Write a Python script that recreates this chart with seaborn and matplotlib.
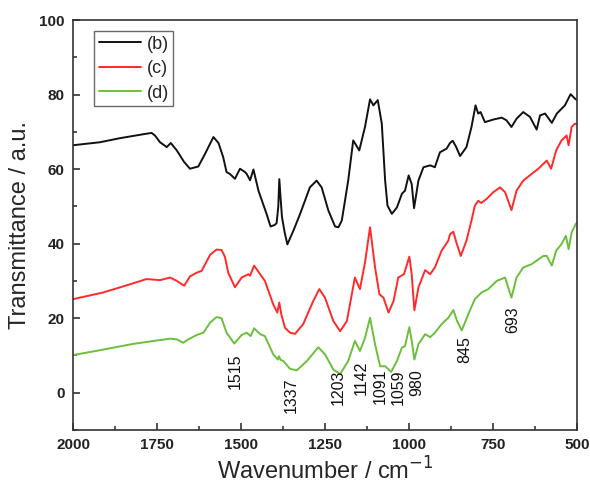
import numpy as np
import pandas as pd
import matplotlib
matplotlib.use("Agg")
import matplotlib.pyplot as plt
import seaborn as sns

# ---- data ----
wn_b = [2000, 1920, 1860, 1781, 1766, 1756, 1741, 1721, 1709, 1691, 1670, 1652, 1627, 1607,
        1582, 1567, 1553, 1543, 1533, 1518, 1503, 1488, 1483, 1473, 1463, 1448, 1424, 1412,
        1400, 1394, 1389, 1386, 1382, 1378, 1370, 1362, 1344, 1324, 1295, 1275, 1260, 1240,
        1220, 1210, 1200, 1181, 1166, 1148, 1131, 1116, 1106, 1093, 1081, 1071, 1064, 1051,
        1036, 1021, 1012, 1001, 992, 985, 972, 957, 937, 923, 908, 888, 878, 870, 860, 848,
        829, 814, 802, 794, 787, 774, 749, 724, 710, 695, 680, 660, 640, 620, 610, 595, 575,
        560, 536, 519, 506, 500]
t_b = [66.4, 67.2, 68.3, 69.5, 69.7, 69.0, 67.2, 65.9, 67.0, 65.0, 62.0, 60.1, 60.7, 64.1,
       68.6, 67.0, 63.2, 59.2, 58.7, 57.4, 60.1, 59.2, 58.7, 57.0, 59.9, 54.2, 48.0, 44.6,
       45.0, 45.5, 50.0, 57.3, 52.0, 47.1, 43.0, 39.8, 43.5, 48.0, 55.1, 56.9, 55.1, 48.9,
       44.6, 44.4, 46.2, 56.9, 67.7, 65.0, 71.3, 78.7, 77.1, 78.5, 72.2, 56.9, 50.2, 48.0,
       49.7, 53.4, 54.2, 58.3, 56.0, 49.5, 56.9, 60.5, 61.0, 60.5, 64.5, 65.5, 67.0, 67.6,
       66.0, 63.5, 65.9, 71.3, 77.1, 74.9, 75.3, 72.6, 73.3, 73.8, 73.1, 71.3, 73.5, 75.3,
       74.0, 70.6, 74.4, 74.9, 72.4, 74.9, 77.1, 80.1, 78.9, 78.5]

wn_c = [2000, 1910, 1830, 1781, 1741, 1711, 1691, 1669, 1652, 1632, 1617, 1592, 1573, 1558,
        1548, 1538, 1518, 1498, 1478, 1473, 1461, 1443, 1429, 1404, 1392, 1386, 1380, 1369,
        1354, 1339, 1315, 1285, 1267, 1250, 1225, 1205, 1185, 1161, 1146, 1131, 1116, 1101,
        1088, 1076, 1061, 1046, 1032, 1015, 999, 992, 984, 972, 952, 937, 923, 903, 883, 878,
        868, 858, 846, 829, 814, 804, 794, 785, 769, 749, 729, 714, 695, 680, 660, 635, 615,
        590, 577, 562, 546, 531, 525, 516, 506, 500]
t_c = [25.1, 26.9, 29.1, 30.5, 30.2, 30.9, 30.0, 28.7, 31.2, 32.2, 32.7, 37.0, 38.4, 38.3,
       36.5, 32.2, 28.3, 30.9, 31.8, 31.4, 34.1, 31.8, 30.0, 23.7, 21.5, 24.2, 21.0, 17.4,
       16.1, 15.8, 18.4, 24.6, 27.8, 25.5, 19.2, 16.5, 19.2, 30.9, 27.8, 34.9, 44.4, 33.6,
       26.4, 25.5, 21.5, 24.6, 30.9, 31.8, 36.5, 31.8, 22.1, 28.2, 32.9, 31.8, 33.6, 38.1,
       40.8, 42.5, 43.2, 40.0, 36.7, 40.8, 46.2, 50.2, 51.5, 50.9, 52.0, 53.8, 55.1, 53.8,
       49.0, 54.2, 56.9, 58.7, 60.1, 62.3, 60.1, 65.0, 67.7, 69.0, 66.4, 71.3, 72.2, 72.0]

wn_d = [2000, 1920, 1821, 1751, 1711, 1691, 1672, 1657, 1632, 1612, 1592, 1573, 1558, 1543,
        1520, 1498, 1483, 1471, 1461, 1443, 1429, 1404, 1390, 1387, 1382, 1374, 1354, 1334,
        1304, 1270, 1250, 1225, 1205, 1181, 1161, 1146, 1131, 1116, 1101, 1086, 1071, 1053,
        1036, 1021, 1012, 999, 992, 984, 972, 952, 937, 923, 903, 883, 868, 858, 843, 824,
        804, 784, 764, 739, 714, 695, 680, 660, 635, 600, 590, 575, 562, 546, 533, 525, 516,
        503, 500]
t_d = [10.1, 11.4, 13.1, 14.0, 14.5, 14.3, 13.4, 14.3, 15.5, 16.1, 18.8, 20.3, 20.0, 16.1,
       13.2, 15.5, 16.1, 15.2, 17.3, 15.7, 15.2, 10.3, 8.9, 9.8, 8.8, 8.5, 6.4, 6.0,
       8.5, 12.2, 10.3, 6.2, 5.0, 8.5, 13.9, 11.2, 14.7, 20.1, 13.0, 7.1, 7.1, 5.6,
       8.5, 12.1, 12.5, 17.6, 14.0, 8.9, 13.0, 15.7, 14.9, 16.1, 18.4, 20.1, 22.2, 19.5,
       16.7, 21.0, 25.1, 26.9, 27.8, 30.0, 30.9, 25.5, 30.9, 33.6, 34.5, 36.7, 36.7, 34.1,
       38.1, 39.9, 42.1, 38.5, 43.0, 45.4, 45.5]

series_names = ["(b)", "(c)", "(d)"]
series_colors = ["#111111", "#ff2a2a", "#6cbf3c"]

peak_labels = ["1515", "1337", "1203", "1142", "1091", "1059", "980", "845", "693"]
label_x = [1518, 1349, 1210, 1143, 1086, 1032, 977, 833, 691]
label_top = [10.6, 4.2, 6.3, 8.5, 6.6, 6.3, 6.3, 15.2, 23.3]

x_ticks = [2000, 1750, 1500, 1250, 1000, 750, 500]
y_ticks = [0, 20, 40, 60, 80, 100]

# ---- build long table ----
frames = []
for name, wn, t in zip(series_names, [wn_b, wn_c, wn_d], [t_b, t_c, t_d]):
    frames.append(pd.DataFrame({"wn": wn, "T": t, "sample": name}))
df = pd.concat(frames, ignore_index=True)

sns.set_style("ticks")
plt.rcParams["font.family"] = ["Liberation Sans", "DejaVu Sans"]

fig = plt.figure(figsize=(5.9, 4.88), dpi=100)
ax = fig.add_axes([73 / 590, 1 - 430 / 488, 504 / 590, 410 / 488])

sns.lineplot(data=df, x="wn", y="T", hue="sample", palette=series_colors,
             estimator=None, sort=False, linewidth=1.4, ax=ax)

ax.set_xlim(2000, 500)
ax.set_ylim(-10, 100)
ax.set_xticks(x_ticks)
ax.set_xticks([1875, 1625, 1375, 1125, 875, 625], minor=True)
ax.set_yticks(y_ticks)
ax.set_yticks([-10, 10, 30, 50, 70, 90], minor=True)
ax.set_xticklabels([str(v) for v in x_ticks], fontweight="bold", fontsize=11)
ax.set_yticklabels([str(v) for v in y_ticks], fontweight="bold", fontsize=11)
ax.tick_params(axis="both", which="major", direction="in", length=5, width=1.1,
               top=False, right=False, pad=6, colors="#222222")
ax.tick_params(axis="both", which="minor", direction="in", length=3, width=1.1,
               top=False, right=False)
for sp in ax.spines.values():
    sp.set_visible(True)
    sp.set_linewidth(1.2)
    sp.set_color("#333333")

ax.set_xlabel("Wavenumber / cm$^{-1}$", fontsize=17, labelpad=4)
ax.set_ylabel("Transmittance / a.u.", fontsize=17, labelpad=6)

for lab, lx, ly in zip(peak_labels, label_x, label_top):
    ax.text(lx, ly, lab, rotation=90, ha="center", va="top", fontsize=11.5, color="#111111")

handles, labels = ax.get_legend_handles_labels()
leg = ax.legend(handles, labels, loc="upper left", bbox_to_anchor=(0.042, 0.973),
                borderaxespad=0, fontsize=13, handlelength=2.35, handletextpad=0.3,
                labelspacing=0.42, frameon=True, fancybox=False, edgecolor="#444444",
                borderpad=0.25)
leg.get_frame().set_linewidth(1.0)

fig.savefig("out.png", dpi=100)
